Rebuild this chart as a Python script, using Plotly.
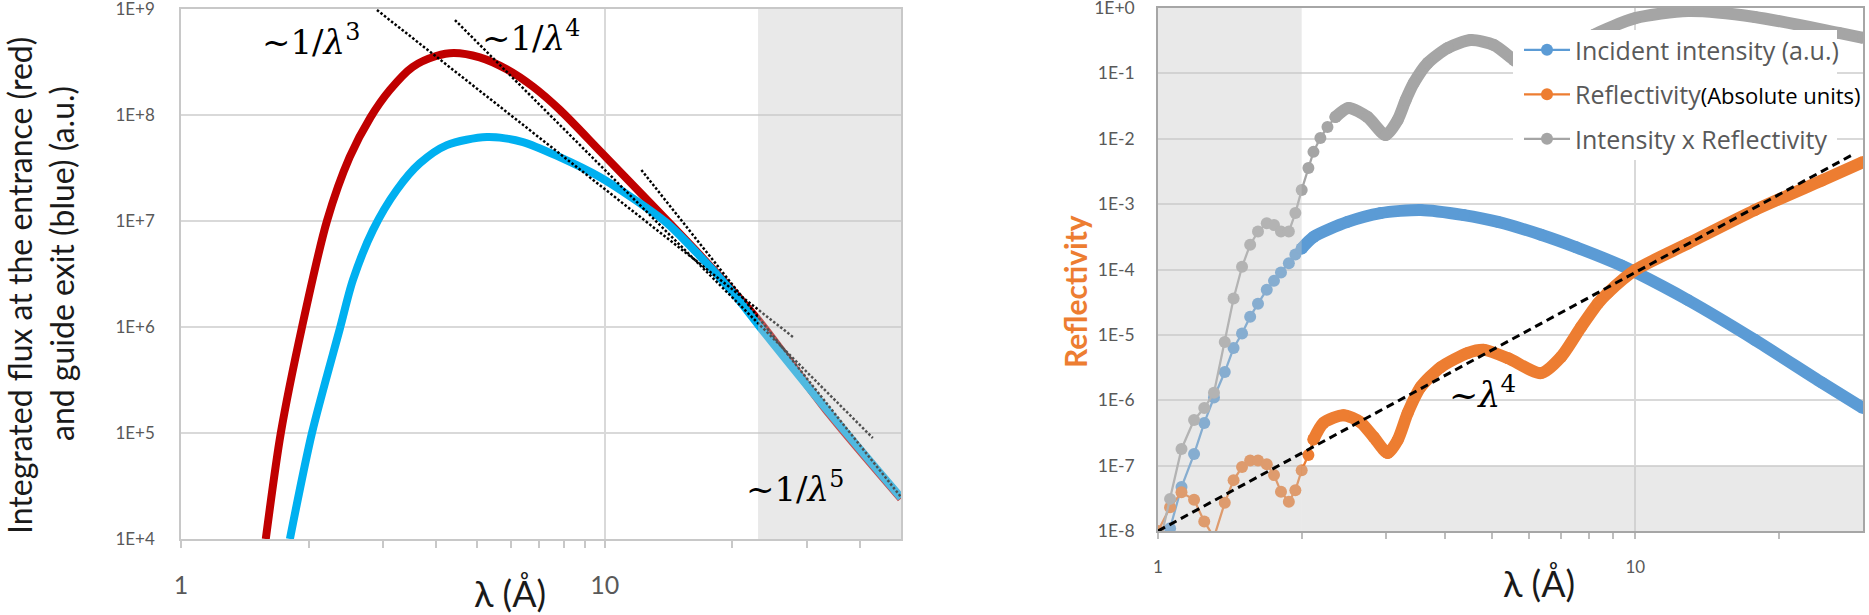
import math
import plotly.graph_objects as go

W, H = 1869, 615

# ---------------- Left chart: integrated flux (a.u.) ----------------
lam_entrance = [1.585, 1.72, 1.93, 2.21, 2.5, 2.8, 3.11, 3.52, 4.0, 4.4, 5.07, 5.87,
                6.77, 7.83, 9.73, 12.75, 16.75, 22.8, 33.9, 50.0]
flux_entrance = [1e4, 1e5, 1e6, 1e7, 4.0e7, 9.5e7, 1.72e8, 2.84e8, 3.6e8, 3.85e8, 3.5e8, 2.7e8,
                 1.85e8, 1.12e8, 4.6e7, 1.5e7, 4.8e6, 1.22e6, 1.5e5, 2.4e4]

lam_exit = [1.807, 2.037, 2.37, 2.545, 2.837, 3.23, 3.66, 4.24, 5.27, 6.41, 7.83,
            9.73, 11.64, 14.0, 16.75, 20.0, 23.1, 33.9, 50.0]
flux_exit = [1e4, 1e5, 9.6e5, 2.77e6, 8.2e6, 1.96e7, 3.5e7, 5.2e7, 6.2e7, 5.56e7, 4.0e7,
             2.6e7, 1.64e7, 9.6e6, 4.68e6, 2.14e6, 1.03e6, 1.55e5, 2.45e4]

# power-law guide lines (end points)
guide_l3_lam = [2.90, 27.8]
guide_l3_val = [9.78e8, 8.05e5]
guide_l4_lam = [4.43, 42.9]
guide_l4_val = [7.87e8, 8.97e4]
guide_l5_lam = [12.2, 50.0]
guide_l5_val = [3.03e7, 2.49e4]

left_band_lam = [23.0, 50.0]
left_band_val = [1e4, 1e9]

left_yticks = [1e4, 1e5, 1e6, 1e7, 1e8, 1e9]
left_yticklabels = ["1E+4", "1E+5", "1E+6", "1E+7", "1E+8", "1E+9"]
left_xticks = [1, 10]
left_xticklabels = ["1", "10"]
left_xminor = [2, 3, 4, 5, 6, 7, 8, 9, 20, 30, 40]

# ---------------- Right chart: reflectivity ----------------
lam_sparse = [1.0, 1.06, 1.12, 1.19, 1.25, 1.31, 1.38, 1.44, 1.5, 1.56, 1.62,
              1.69, 1.75, 1.81, 1.88, 1.94, 2.0]
incident_sparse = [2e-9, 1.1e-8, 4.7e-8, 1.5e-7, 4.5e-7, 1.1e-6, 2.7e-6, 6.3e-6, 1.05e-5, 1.9e-5, 3.0e-5,
                   4.9e-5, 6.7e-5, 9.0e-5, 1.25e-4, 1.7e-4, 2.1e-4]
refl_sparse = [1e-8, 2.3e-8, 3.9e-8, 3.0e-8, 1.4e-8, 8e-9, 2.7e-8, 6e-8, 9.5e-8, 1.2e-7, 1.2e-7,
               1.05e-7, 7.2e-8, 4e-8, 2.8e-8, 4.2e-8, 8.5e-8]
prod_sparse = [5e-9, 3.1e-8, 1.8e-7, 5e-7, 7.6e-7, 1.3e-6, 7.8e-6, 3.6e-5, 1.1e-4, 2.4e-4, 3.8e-4,
               5.1e-4, 4.8e-4, 3.8e-4, 3.8e-4, 7.3e-4, 1.65e-3]

lam_incident = [2.0, 2.117, 2.495, 2.927, 3.551, 4.373, 5.155, 6.346, 7.5, 9.35, 10.0,
                12.9, 17.8, 24.6, 30.0]
incident = [2.1e-4, 3.15e-4, 5.35e-4, 7.3e-4, 8.15e-4, 6.8e-4, 5.35e-4, 3.4e-4, 2.2e-4, 1.15e-4, 9.1e-5,
            3.4e-5, 8.4e-6, 1.86e-6, 7.6e-7]

lam_refl = [2.0, 2.066, 2.117, 2.222, 2.447, 2.657, 2.83, 3.027, 3.178, 3.336, 3.551, 3.912,
            4.46, 4.817, 5.41, 6.346, 6.99, 7.7, 8.36, 8.76, 10.0, 12.9, 17.8, 24.6, 30.0]
refl = [8.5e-8, 1.45e-7, 2.5e-7, 4.5e-7, 5.9e-7, 4.6e-7, 2.74e-7, 1.56e-7, 2.46e-7, 6.4e-7, 1.59e-6, 3.2e-6,
        5.3e-6, 5.9e-6, 4.4e-6, 2.6e-6, 4.6e-6, 1.32e-5, 3.06e-5, 4.4e-5, 9.8e-5, 2.5e-4, 8.1e-4, 2.3e-3, 4.4e-3]

lam_prod = [2.0, 2.066, 2.117, 2.189, 2.265, 2.354, 2.507, 2.748, 2.999, 3.178, 3.304, 3.434,
            3.674, 4.046, 4.524, 5.055, 5.57, 6.0, 6.4, 6.9, 7.5, 8.2, 10.0, 12.9, 17.8, 26.7, 30.0]
prod = [1.65e-3, 3.58e-3, 6.3e-3, 1.03e-2, 1.51e-2, 2.15e-2, 2.96e-2, 2.15e-2, 1.14e-2, 1.94e-2, 3.92e-2, 7.1e-2,
        0.144, 0.245, 0.324, 0.272, 0.16, 0.11, 0.09, 0.11, 0.25, 0.39, 0.7, 0.9, 0.73, 0.415, 0.35]

guide_r4_lam = [1.0, 28.4]
guide_r4_val = [1e-8, 5.6e-3]

right_vband_lam = [1.0, 2.0]
right_vband_val = [1e-8, 1.0]
right_hband_lam = [2.0, 30.0]
right_hband_val = [1e-8, 1e-7]

right_yticks = [1e-8, 1e-7, 1e-6, 1e-5, 1e-4, 1e-3, 1e-2, 1e-1, 1.0]
right_yticklabels = ["1E-8", "1E-7", "1E-6", "1E-5", "1E-4", "1E-3", "1E-2", "1E-1", "1E+0"]
right_xticks = [1, 10]
right_xticklabels = ["1", "10"]
right_xminor = [2, 3, 4, 5, 6, 7, 8, 9, 20]

names = ["Incident intensity (a.u.)",
         "Reflectivity<span style='color:#000000;font-size:22px'>(Absolute units)</span>",
         "Intensity x Reflectivity"]

C_RED, C_CYAN = "#C00000", "#00B0F0"
C_BLUE, C_ORANGE, C_GRAY = "#5B9BD5", "#ED7D31", "#A5A5A5"
BAND = "rgba(200,200,200,0.40)"
FONT = "Lato, 'Noto Sans', sans-serif"
LEGFONT = "'Open Sans', 'Noto Sans', sans-serif"
SERIF = "'DejaVu Serif', serif"
TICKC = "#595959"
GRID = "#D9D9D9"


def band(xs, ys, xa, ya):
    return go.Scatter(x=[xs[0], xs[1], xs[1], xs[0], xs[0]],
                      y=[ys[0], ys[0], ys[1], ys[1], ys[0]],
                      mode="lines", fill="toself", fillcolor=BAND,
                      line=dict(width=0, color="rgba(0,0,0,0)"),
                      hoverinfo="skip", showlegend=False, xaxis=xa, yaxis=ya)


fig = go.Figure()

# left chart traces
fig.add_trace(go.Scatter(x=lam_entrance, y=flux_entrance, mode="lines",
                         line=dict(color=C_RED, width=8, shape="spline", smoothing=0.8),
                         showlegend=False, xaxis="x", yaxis="y"))
fig.add_trace(go.Scatter(x=lam_exit, y=flux_exit, mode="lines",
                         line=dict(color=C_CYAN, width=8, shape="spline", smoothing=0.8),
                         showlegend=False, xaxis="x", yaxis="y"))
for gx, gy in [(guide_l3_lam, guide_l3_val), (guide_l4_lam, guide_l4_val), (guide_l5_lam, guide_l5_val)]:
    fig.add_trace(go.Scatter(x=gx, y=gy, mode="lines",
                             line=dict(color="black", width=2.5, dash="2.5px,2px"),
                             showlegend=False, xaxis="x", yaxis="y"))
fig.add_trace(band(left_band_lam, left_band_val, "x", "y"))

# right chart traces: separate markers where they are spread out, a merged band where dense
series = [
    (lam_sparse, incident_sparse, lam_incident, incident, C_BLUE, names[0], "g1", 2.0),
    (lam_sparse, refl_sparse, lam_refl, refl, C_ORANGE, names[1], "g2", 2.117),
    (lam_sparse, prod_sparse, lam_prod, prod, C_GRAY, names[2], "g3", 2.354),
]
for xs, ys, xd, yd, col, nm, grp, split in series:
    sx = list(xs) + [a for a in xd if split >= a > xs[-1]]
    sy = list(ys) + [b for a, b in zip(xd, yd) if split >= a > xs[-1]]
    dx = [a for a in xd if a >= split]
    dy = [b for a, b in zip(xd, yd) if a >= split]
    fig.add_trace(go.Scatter(x=sx, y=sy, mode="lines+markers", name=nm, legendgroup=grp,
                             line=dict(color=col, width=2.25),
                             marker=dict(size=12, color=col),
                             xaxis="x2", yaxis="y2"))
    fig.add_trace(go.Scatter(x=dx, y=dy, mode="lines+markers", legendgroup=grp, showlegend=False,
                             line=dict(color=col, width=12, shape="spline", smoothing=0.7),
                             marker=dict(size=12, color=col),
                             xaxis="x2", yaxis="y2"))
fig.add_trace(band(right_vband_lam, right_vband_val, "x2", "y2"))
fig.add_trace(band(right_hband_lam, right_hband_val, "x2", "y2"))
fig.add_trace(go.Scatter(x=guide_r4_lam, y=guide_r4_val, mode="lines",
                         line=dict(color="black", width=3, dash="8px,5px"),
                         showlegend=False, xaxis="x2", yaxis="y2"))


def px(x):
    return x / W


def py(y):
    return 1 - y / H


axis_common = dict(showline=True, linewidth=1.5, mirror=True, zeroline=False,
                   showgrid=True, gridcolor=GRID, gridwidth=1.5, ticklabeloverflow="allow",
                   automargin=False)

fig.update_layout(
    width=W, height=H, margin=dict(l=0, r=0, t=0, b=0, autoexpand=False),
    paper_bgcolor="white", plot_bgcolor="white",
    font=dict(family=FONT, color=TICKC),
    xaxis=dict(type="log", range=[0, math.log10(50)], domain=[px(181), px(901)],
               tickmode="array", tickvals=left_xticks, ticktext=left_xticklabels,
               ticks="outside", ticklen=7, tickwidth=1.5, tickcolor="#C8C8C8",
               linecolor="#C8C8C8", tickfont=dict(size=25, color=TICKC),
               ticklabelstandoff=16,
               minor=dict(tickmode="array", tickvals=left_xminor, ticks="outside", ticklen=7,
                          tickwidth=1.5, tickcolor="#C8C8C8", showgrid=False),
               anchor="y", **axis_common),
    yaxis=dict(type="log", range=[4, 9], domain=[py(539), py(9)],
               tickmode="array", tickvals=left_yticks, ticktext=left_yticklabels,
               ticks="", linecolor="#C8C8C8", tickfont=dict(size=17, color=TICKC),
               ticklabelstandoff=21, anchor="x", **axis_common),
    xaxis2=dict(type="log", range=[0, math.log10(30)], domain=[px(1158), px(1863)],
                tickmode="array", tickvals=right_xticks, ticktext=right_xticklabels,
                ticks="outside", ticklen=6, tickwidth=1.5, tickcolor="#BDBDBD",
                linecolor="#A6A6A6", tickfont=dict(size=17, color=TICKC),
                ticklabelstandoff=14, layer="below traces",
                minor=dict(tickmode="array", tickvals=right_xminor, ticks="outside", ticklen=6,
                           tickwidth=1.5, tickcolor="#BDBDBD", showgrid=False),
                anchor="y2", **axis_common),
    yaxis2=dict(type="log", range=[-8, 0], domain=[py(531), py(8)],
                tickmode="array", tickvals=right_yticks, ticktext=right_yticklabels,
                ticks="", linecolor="#A6A6A6", tickfont=dict(size=17.5, color=TICKC),
                ticklabelstandoff=18, layer="below traces", anchor="x2", **axis_common),
    legend=dict(x=px(1519), y=py(27), xanchor="left", yanchor="top",
                bgcolor="rgba(0,0,0,0)", borderwidth=0,
                font=dict(size=25, color=TICKC, family=LEGFONT),
                itemwidth=46, tracegroupgap=9, traceorder="grouped"),
    showlegend=True,
    # white backing of the legend box, hiding the curves behind it
    shapes=[dict(type="rect", xref="paper", yref="paper",
                 x0=px(1513), x1=px(1837), y0=py(160), y1=py(30),
                 fillcolor="white", line=dict(width=0), layer="above")],
)

ann = [
    dict(text="Integrated flux at the entrance (red)", x=px(19), y=py(286), textangle=-90,
         font=dict(size=32, color="#1A1A1A", family=FONT)),
    dict(text="and guide exit (blue) (a.u.)", x=px(62), y=py(264), textangle=-90,
         font=dict(size=32, color="#1A1A1A", family=FONT)),
    dict(text="λ (Å)", x=px(510), y=py(593), font=dict(size=36, color="#1A1A1A", family=FONT)),
    dict(text="λ (Å)", x=px(1539), y=py(583), font=dict(size=36, color="#1A1A1A", family=FONT)),
    dict(text="<b>Reflectivity</b>", x=px(1075), y=py(292), textangle=-90,
         font=dict(size=30, color=C_ORANGE, family=FONT)),
    dict(text="~1/<i>λ</i><sup>3</sup>", x=px(311), y=py(40), font=dict(size=34, color="black", family=SERIF)),
    dict(text="~1/<i>λ</i><sup>4</sup>", x=px(531), y=py(36), font=dict(size=34, color="black", family=SERIF)),
    dict(text="~1/<i>λ</i><sup>5</sup>", x=px(795), y=py(487), font=dict(size=34, color="black", family=SERIF)),
    dict(text="~<i>λ</i><sup>4</sup>", x=px(1482), y=py(392), font=dict(size=35, color="black", family=SERIF)),
]
for a in ann:
    a.update(xref="paper", yref="paper", showarrow=False, xanchor="center", yanchor="middle")
fig.update_layout(annotations=ann)

fig.write_html("out.html")
